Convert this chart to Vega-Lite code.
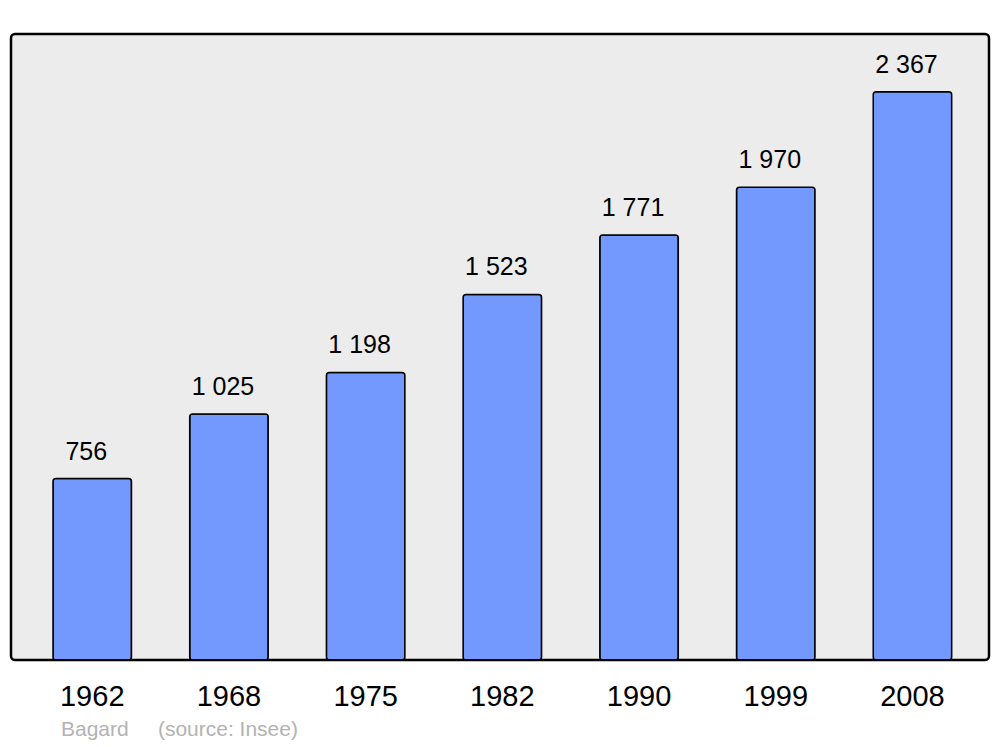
{
  "$schema": "https://vega.github.io/schema/vega-lite/v6.json",
  "width": 978,
  "height": 626,
  "autosize": {"type": "none"},
  "padding": {"left": 11, "top": 34, "right": 11, "bottom": 87},
  "background": "white",
  "config": {
    "font": "Liberation Sans",
    "view": {"fill": "#ececec", "stroke": "black", "strokeWidth": 2.5, "cornerRadius": 4},
    "locale": {"number": {"decimal": ",", "thousands": " ", "grouping": [3], "currency": ["", " €"]}}
  },
  "title": {
    "text": "Bagard\u00a0\u00a0\u00a0\u00a0\u00a0(source: Insee)",
    "orient": "bottom",
    "anchor": "start",
    "dx": 50,
    "offset": 8,
    "fontSize": 21,
    "fontWeight": "normal",
    "color": "#b3b3b3",
    "font": "Liberation Sans"
  },
  "data": {
    "values": [
      {"year": "1962", "population": 756},
      {"year": "1968", "population": 1025},
      {"year": "1975", "population": 1198},
      {"year": "1982", "population": 1523},
      {"year": "1990", "population": 1771},
      {"year": "1999", "population": 1970},
      {"year": "2008", "population": 2367}
    ]
  },
  "encoding": {
    "x": {
      "field": "year",
      "type": "ordinal",
      "sort": null,
      "scale": {"paddingInner": 0.426, "paddingOuter": 0.289, "range": [2.5, 980.2]},
      "axis": {
        "title": null,
        "ticks": false,
        "tickSize": 0,
        "domain": false,
        "labelAngle": 0,
        "labelFontSize": 29,
        "labelColor": "black",
        "labelBaseline": "alphabetic",
        "labelPadding": 45,
        "labelFont": "Liberation Sans"
      }
    },
    "y": {
      "field": "population",
      "type": "quantitative",
      "scale": {"domain": [0, 2608], "nice": false, "zero": true},
      "axis": null
    }
  },
  "layer": [
    {
      "mark": {"type": "bar", "fill": "#7399ff", "stroke": "black", "strokeWidth": 1.5, "cornerRadius": 3}
    },
    {
      "mark": {"type": "text", "baseline": "alphabetic", "dy": -19, "dx": -6, "fontSize": 25, "color": "black", "font": "Liberation Sans"},
      "encoding": {"text": {"field": "population", "type": "quantitative", "format": ",d"}}
    }
  ]
}
